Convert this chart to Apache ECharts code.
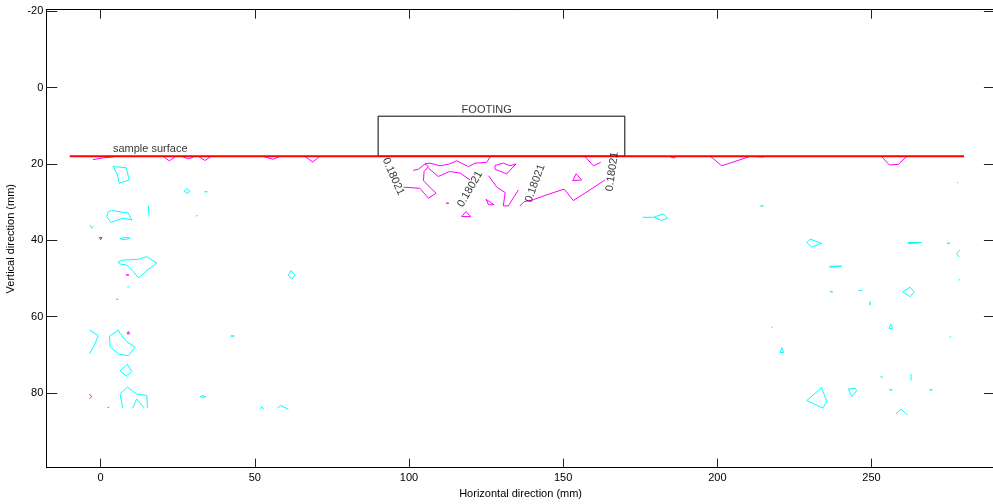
<!DOCTYPE html>
<html>
<head>
<meta charset="utf-8">
<script src="https://cdn.jsdelivr.net/npm/echarts@6/dist/echarts.min.js"></script>
<style>html,body{margin:0;padding:0;background:#fff}#c{width:993px;height:504px}</style>
</head>
<body>
<div id="c"></div>
<script>
// ---- axis ticks ----
var xTicks = [0, 50, 100, 150, 200, 250];
var yTicks = [-20, 0, 20, 40, 60, 80];

// ---- sample surface & footing ----
var surfaceLine = [[-10, 18], [280, 18]];
var footingBox = [[90, 7.5], [170, 7.5], [170, 18], [90, 18], [90, 7.5]];

// ---- cyan contour pieces (x mm, y mm) ----
var cyanContours = [
  [[4,20.7],[8.3,21],[9.3,24.2],[6.1,25.1],[5.3,22.4],[4,20.7]],
  [[27.1,27.1],[27.9,26.5],[29,27.2],[27.9,27.8],[27.1,27.1]],
  [[33.7,27.3],[34.1,26.9],[34.6,27.3],[34.1,27.7],[33.7,27.3]],
  [[15.5,31],[15.7,33.6]],
  [[30.9,33.6],[31.2,33.3],[31.5,33.6],[31.2,33.9],[30.9,33.6]],
  [[2.5,32.5],[3.6,32.2],[9,32.9],[10.1,34.7],[7.2,34.2],[5.4,34.7],[3.4,35.4],[2,33.8],[2.5,32.5]],
  [[-3.4,36],[-2.9,36.8],[-2.3,36.4]],
  [[6.3,39.6],[8,39.3],[9.6,39.4],[9.6,39.9],[8,39.9],[6.3,39.6]],
  [[5.8,45.6],[7.4,45.2],[12.3,45],[15,44.3],[18.2,46],[15.5,47.6],[12.3,49.9],[10.6,48.2],[8.5,46.5],[6.1,46.2],[5.8,45.6]],
  [[8.7,52.3],[9.3,52.2]],
  [[5,55.5],[5.4,55],[5.8,55.5],[5.4,56],[5,55.5]],
  [[60.9,49.1],[61.7,48],[63.1,49.1],[62,50.2],[60.9,49.1]],
  [[-3.6,63.5],[-0.7,65],[-2.3,67.9],[-3.6,69.8]],
  [[5.8,63.5],[2.9,65.1],[3.1,67.9],[5.8,69.8],[9,70.3],[11.2,68],[8.5,66.6],[6.3,64.4],[5.8,63.5]],
  [[42.2,65.1],[42.7,64.6],[43.3,65.1],[42.7,65.5],[42.2,65.1]],
  [[6.3,74.2],[8.7,72.5],[10.1,74.4],[8.5,75.7],[6.3,74.2]],
  [[7.2,84],[6.3,80.3],[8.7,78.5],[11.7,80.3],[15,80.7],[15.2,84]],
  [[10.4,84],[11.7,81.6],[14.2,84]],
  [[32.3,81],[33.2,80.7],[34.1,81],[33.2,81.2],[32.3,81]],
  [[51.7,84.3],[52.3,83.6],[52.8,84.3]],
  [[57.3,84],[58.4,83.3],[60.9,84.3]],
  [[277.7,24.9],[278.1,24.9]],
  [[214,31],[214.4,30.6],[214.9,31],[214.4,31.4],[214,31]],
  [[175.8,34],[179.3,34],[182.5,33.1],[183.8,34.2],[182,34.8],[179.3,34]],
  [[229,40.6],[230.1,39.7],[233.8,40.8],[230.6,41.8],[229,40.6]],
  [[261.9,40.6],[266.3,40.6],[266.3,40.9],[261.9,40.9],[261.9,40.6]],
  [[274.5,40.8],[274.9,40.5],[275.4,40.8],[274.9,41.1],[274.5,40.8]],
  [[278.6,42.5],[277.6,43.5],[278.4,44.4]],
  [[236.5,46.8],[240.3,46.8],[240.3,47.1],[236.5,47.1],[236.5,46.8]],
  [[278.2,50.6],[278.6,50.2]],
  [[236.5,53.5],[236.9,53.1],[237.4,53.5],[236.9,53.9],[236.5,53.5]],
  [[245.8,53.2],[247,53.2]],
  [[249.5,56.1],[249.9,56.5],[249.5,57],[249.3,56.5],[249.5,56.1]],
  [[260.1,53.5],[262.5,52.3],[263.9,53.5],[262.5,54.8],[260.1,53.5]],
  [[217.4,62.8],[217.9,62.8]],
  [[255.7,63.1],[256.2,62],[256.8,63.1],[255.7,63.1]],
  [[275.3,65.3],[275.8,65.3]],
  [[220.3,69.4],[220.9,68.2],[221.5,69.4],[220.3,69.4]],
  [[252.8,75.6],[253.7,76]],
  [[262.8,75],[262.8,76.8]],
  [[229,82],[233.8,78.6],[235.5,82.3],[234.2,84],[229,82]],
  [[242.5,79],[244.7,78.8],[245.2,79.4],[243.6,81],[242.5,79]],
  [[255.8,79.2],[256.2,78.8],[256.7,79.2],[256.2,79.6],[255.8,79.2]],
  [[268.8,79.2],[269.2,78.7],[269.7,79.2],[269.2,79.7],[268.8,79.2]],
  [[257.9,85.5],[259.6,84.3],[261.7,85.8]]
];

// ---- magenta contour pieces (x mm, y mm) ----
var magentaContours = [
  [[-2.5,18.9],[1,18.4],[4,18.2]],
  [[20.4,18.1],[22.3,19.2],[24.2,18.1]],
  [[26.8,18.2],[28.5,18.7],[30.1,18.2]],
  [[32,18.2],[33.9,19.1],[35.7,18.1]],
  [[53,18.1],[56,18.8],[58,18.1]],
  [[66.3,18.1],[68.8,19.5],[71,18.1]],
  [[-0.4,39.3],[0,38.8],[0.5,39.3],[0,39.9],[-0.4,39.3]],
  [[8.3,49.1],[8.7,48.6],[9.2,49.1],[8.7,49.6],[8.3,49.1]],
  [[8.6,64.5],[9,63.9],[9.5,64.5],[9,65],[8.6,64.5]],
  [[-3.6,80.3],[-2.9,81],[-3.6,81.5]],
  [[2.3,83.8],[2.7,83.8]],
  [[101.4,21.7],[103.1,21.4],[105.2,20],[106.8,19.8],[110.1,20.5],[112.8,20.1],[115.5,19.2],[119.3,20.7],[121.4,19.8],[125.2,19.6],[126.3,18.2]],
  [[98.2,26.1],[103.6,26.4],[106.3,29],[108.8,27.7],[107.1,26.4],[104.7,24.4],[104.9,22],[106.3,20.7],[105.2,20]],
  [[106.3,21.1],[109.5,23.3],[113.1,22],[116.6,22.4],[119.8,24.2]],
  [[125.8,23.1],[128.5,26.1],[131.2,27.5],[130.6,31],[132.2,31],[134.1,28.6],[135.5,26.8]],
  [[136,31],[137.3,29.9],[140.3,29.4],[144.7,28.1],[150.3,26.6],[153.3,29.6],[158.7,26.8],[163.6,24.2]],
  [[157.1,18.1],[159.8,20.5],[162.2,19.6]],
  [[127.9,20.4],[130.6,19.8],[132.8,20.5],[134.7,20],[131.7,22.6],[127.9,21.4],[127.9,20.4]],
  [[153.1,24.4],[154.2,22.6],[156,24.2],[153.1,24.4]],
  [[125,29.3],[125.8,30.7],[127.6,30.7],[125,29.3]],
  [[117.1,33.8],[118.5,32.5],[120,33.8],[117.1,33.8]],
  [[112.1,30.3],[112.5,29.9],[112.9,30.3],[112.5,30.7],[112.1,30.3]],
  [[184.7,18.1],[186,18.5],[186.6,18.1]],
  [[197.6,17.9],[201.4,20.5],[210.4,18.1]],
  [[212.8,18.1],[214.9,18.2]],
  [[253.3,18.1],[255.8,20.3],[258.7,20.1],[261.2,18.2]]
];

// ---- contour level labels ----
var levelText = '0.18021';
var levelLabelX = [94.9, 119.8, 140.9, 165.9];
var levelLabelY = [23.3, 26.6, 25.1, 22];
var levelLabelRot = [-66, 60, 70, 82];

// ---- annotations ----
var noteText = ['FOOTING', 'sample surface'];
var noteX = [125.2, 4];
var noteY = [5.8, 16.1];

var FONT = "'Liberation Sans', Arial, Helvetica, sans-serif";
var series = [];
function addLine(pts, color, width, z) {
  series.push({
    type: 'line', data: pts, xAxisIndex: 0, yAxisIndex: 0,
    showSymbol: false, symbol: 'none', silent: true, animation: false,
    lineStyle: { color: color, width: width }, z: z
  });
}
cyanContours.forEach(function (p) { addLine(p, '#00FFFF', 1, 2); });
magentaContours.forEach(function (p) { addLine(p, '#FF00FF', 1, 2); });
addLine(footingBox, '#000000', 1, 3);
addLine(surfaceLine, '#FF0000', 2, 4);

series.push({
  type: 'scatter', symbolSize: 0, silent: true, animation: false, z: 5,
  data: levelLabelX.map(function (x, i) {
    return { value: [x, levelLabelY[i]], label: { rotate: levelLabelRot[i] } };
  }),
  label: { show: true, position: 'inside', formatter: levelText,
           color: '#000', fontSize: 11, fontFamily: FONT }
});
series.push({
  type: 'scatter', symbolSize: 0, silent: true, animation: false, z: 5,
  data: [
    { value: [noteX[0], noteY[0]], label: { position: 'inside', formatter: noteText[0] } },
    { value: [noteX[1], noteY[1]], label: { position: 'right', distance: 0, formatter: noteText[1] } }
  ],
  label: { show: true, color: '#000', fontSize: 11, fontFamily: FONT }
});

var axisLineStyle = { show: true, onZero: false, lineStyle: { color: '#000', width: 1 } };
var xMin = -17.6, xMax = 290, yMin = -20.4, yMax = 99.6;

var chart = echarts.init(document.getElementById('c'), null, { renderer: 'canvas' });
chart.setOption({
  animation: false,
  backgroundColor: '#fff',
  textStyle: { fontFamily: FONT },
  grid: { left: 46.3, top: 9.7, right: -1.9, bottom: 36.3, containLabel: false, outerBoundsMode: 'none' },
  xAxis: [
    { type: 'value', position: 'bottom', min: xMin, max: xMax,
      axisLine: axisLineStyle, splitLine: { show: false },
      axisTick: { show: true, inside: true, length: 9, customValues: xTicks, lineStyle: { color: '#222' } },
      axisLabel: { show: true, customValues: xTicks, margin: 5, color: '#000', fontSize: 11, fontFamily: FONT },
      name: 'Horizontal direction (mm)', nameLocation: 'middle', nameGap: 19,
      nameTextStyle: { color: '#000', fontSize: 11, fontFamily: FONT } },
    { type: 'value', position: 'top', min: xMin, max: xMax,
      axisLine: axisLineStyle, splitLine: { show: false },
      axisTick: { show: true, inside: true, length: 9, customValues: xTicks, lineStyle: { color: '#222' } },
      axisLabel: { show: false } }
  ],
  yAxis: [
    { type: 'value', position: 'left', inverse: true, min: yMin, max: yMax,
      axisLine: axisLineStyle, splitLine: { show: false },
      axisTick: { show: true, inside: true, length: 11, customValues: yTicks, lineStyle: { color: '#222' } },
      axisLabel: { show: true, customValues: yTicks, margin: 3, color: '#000', fontSize: 11, fontFamily: FONT },
      name: 'Vertical direction (mm)', nameLocation: 'middle', nameGap: 28,
      nameTextStyle: { color: '#000', fontSize: 11, fontFamily: FONT } },
    { type: 'value', position: 'right', inverse: true, min: yMin, max: yMax,
      axisLine: axisLineStyle, splitLine: { show: false },
      axisTick: { show: true, inside: true, length: 11, customValues: yTicks, lineStyle: { color: '#222' } },
      axisLabel: { show: false } }
  ],
  series: series
});
</script>
</body>
</html>
